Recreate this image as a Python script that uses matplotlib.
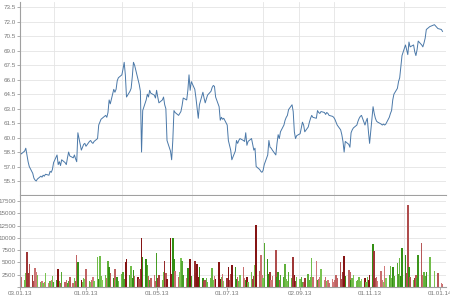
import pandas as pd
import numpy as np
import matplotlib
matplotlib.use("Agg")
import matplotlib.pyplot as plt
import matplotlib.dates as mdates

# trading calendar: weekdays 03.01.13 .. 03.01.14 without the christmas / new year closures
start_day = "2013-01-03"
end_day = "2014-01-03"
closed_days = ["2013-12-24", "2013-12-25", "2013-12-26", "2013-12-31", "2014-01-01"]

close_price = [
    58.5, 58.3, 58.6, 58.9, 58.2, 57.5, 57.0, 56.3, 55.8, 55.6,
    55.5, 55.7, 56.0, 55.9, 56.1, 56.0, 56.2, 56.1, 56.5, 56.4,
    56.7, 57.4, 58.2, 57.2, 57.5, 57.1, 57.7, 57.4, 57.2, 57.9,
    58.5, 58.1, 57.9, 58.2, 57.8, 57.5, 60.5, 58.7, 59.0, 59.3,
    59.4, 59.1, 59.6, 59.7, 59.5, 59.4, 59.6, 59.9, 61.3, 61.6,
    61.9, 62.0, 62.3, 62.1, 62.6, 63.9, 63.5, 65.0, 64.7, 65.0,
    65.9, 66.2, 66.5, 67.1, 67.8, 66.5, 64.2, 64.8, 65.1, 66.3,
    67.8, 67.5, 66.0, 65.5, 64.8, 58.5, 62.8, 63.9, 64.5, 64.2,
    64.9, 64.6, 64.4, 64.1, 64.9, 64.2, 63.6, 63.9, 64.2, 63.4,
    63.0, 59.7, 58.6, 57.7, 59.7, 62.8, 62.6, 62.3, 62.5, 62.7,
    63.3, 64.1, 63.9, 64.9, 66.5, 64.9, 65.8, 65.0, 64.1, 63.0,
    62.0, 63.4, 64.7, 64.1, 63.6, 64.0, 64.4, 64.8, 65.2, 65.4,
    65.3, 64.2, 63.2, 61.8, 62.1, 61.9, 62.0, 61.3, 59.7, 59.2,
    58.7, 57.7, 58.6, 59.7, 59.4, 59.7, 59.9, 59.7, 59.6, 60.5,
    59.2, 59.6, 59.9, 59.3, 58.7, 58.9, 57.0, 56.7, 56.5, 56.4,
    56.6, 57.2, 58.2, 59.7, 59.0, 58.9, 58.7, 58.2, 59.4, 60.3,
    59.9, 60.6, 61.3, 61.8, 62.1, 62.3, 62.9, 63.4, 62.7, 60.6,
    59.9, 60.2, 60.4, 61.0, 61.6, 61.3, 60.6, 61.1, 61.6, 62.0,
    62.3, 62.1, 62.0, 62.8, 62.6, 62.5, 62.7, 62.6, 62.4, 62.6,
    62.5, 62.3, 62.2, 62.1, 61.9, 61.6, 61.3, 60.8, 60.3, 59.6,
    58.5, 59.6, 59.3, 59.0, 60.5, 60.8, 61.0, 61.3, 61.7, 62.0,
    62.2, 62.3, 61.3, 61.7, 62.0, 60.6, 59.4, 63.2, 62.5, 62.0,
    61.7, 61.6, 61.4, 61.3, 61.4, 61.3, 61.4, 62.1, 62.5, 62.8,
    63.9, 64.5, 65.1, 65.8, 66.2, 67.4, 68.5, 69.6, 69.1, 68.6,
    69.9, 69.4, 69.6, 68.9, 68.5, 69.1, 70.0, 69.6, 69.4, 69.8,
    70.3, 71.2, 71.5, 71.7, 71.3, 71.2, 71.0,
]

volume = [
    2400, 2000, 1500, 2800, 7200, 2800, 4600, 2500, 1200, 3800,
    3000, 2500, 1000, 1300, 800, 1100, 2800, 900, 1200, 1500,
    2300, 1000, 1400, 3700, 1200, 900, 3100, 1100, 1500, 800,
    1300, 2000, 900, 1800, 1200, 6500, 5100, 1400, 1100, 1800,
    1600, 3700, 1300, 1000, 1500, 2000, 1200, 6100, 1700, 6300,
    2200, 1400, 2500, 1800, 5300, 4100, 2800, 1800, 3600, 1500,
    2000, 1200, 2600, 3000, 1700, 5000, 5700, 2400, 4300, 1900,
    3500, 2200, 2000, 1600, 3700, 10000, 6000, 5700, 4400, 2300,
    1500, 1900, 2400, 1300, 6900, 1800, 2500, 1400, 3000, 5300,
    2800, 1700, 9900, 2600, 9900, 5600, 3300, 2100, 3000, 5900,
    5300, 2400, 1900, 3800, 2600, 5700, 2200, 5300, 2900, 4700,
    2000, 4000, 1800, 1200, 1500, 1900, 1000, 1800, 3900, 1400,
    2300, 1700, 5100, 1600, 2000, 2700, 1300, 1900, 4100, 1500,
    2600, 4500, 4100, 1700, 2000, 1200, 2500, 4100, 1800, 1400,
    2000, 1100, 3000, 1600, 2200, 4500, 12600, 3200, 6500, 2400,
    1800, 8900, 5700, 2600, 3000, 1500, 2300, 7500, 2100, 3000,
    1400, 2500, 2000, 4700, 1600, 1300, 3000, 1900, 6100, 2500,
    1300, 2000, 1600, 2000, 1100, 1000, 1800, 2600, 1500, 2100,
    5900, 2000, 5300, 1400, 1700, 2000, 3700, 1500, 2000, 1200,
    1500, 900, 1700, 1000, 1400, 2500, 1900, 5100, 1600, 3000,
    6400, 2200, 3500, 3000, 1400, 1800, 2500, 1200, 1500, 2000,
    1300, 1600, 1800, 1100, 2000, 1400, 2500, 8700, 7400, 1900,
    2000, 1300, 3300, 1500, 1000, 4300, 1800, 2500, 4300, 1900,
    4000, 2200, 4900, 2600, 5900, 2300, 7900, 6500, 2800, 16700,
    4000, 2100, 1500, 1800, 2500, 1900, 6500, 8900, 2400, 3000,
    2200, 3000, 6200, 3300, 2800, 900, 700,
]

label_days = ["2013-01-03", "2013-03-01", "2013-05-01", "2013-07-01",
              "2013-09-02", "2013-11-01", "2014-01-01"]

days = pd.bdate_range(start_day, end_day)
days = days[~days.isin(pd.to_datetime(closed_days))]
df = pd.DataFrame({"close": close_price, "volume": volume}, index=days)

# bar colours: green up days, red down days, darker for bigger moves
chg = df["close"].diff().fillna(0)
strength = np.clip(chg.abs() / 1.0, 0, 1)
up_light, up_dark = np.array([0.55, 0.82, 0.38]), np.array([0.20, 0.56, 0.08])
dn_light, dn_dark = np.array([0.85, 0.52, 0.52]), np.array([0.52, 0.08, 0.08])
bar_colors = []
for c, s in zip(chg, strength):
    lo, hi = (up_light, up_dark) if c >= 0 else (dn_light, dn_dark)
    bar_colors.append(tuple(lo + (hi - lo) * s))

grid_c = "#e4e4e4"
spine_c = "#a0a0a0"
text_c = "#777777"
plt.rcParams["font.family"] = ["Liberation Sans", "DejaVu Sans"]

fig = plt.figure(figsize=(4.5, 3), dpi=100)
ax1 = fig.add_axes([20 / 450, 105 / 300, 426 / 450, 193 / 300])
ax2 = fig.add_axes([20 / 450, 13 / 300, 426 / 450, 91 / 300], sharex=ax1)

ax1.plot(df.index, df["close"], color="#4a78a8", linewidth=0.7)
ax2.bar(df.index, df["volume"], width=1.3, color=bar_colors, linewidth=0)

x_lo = pd.Timestamp("2013-01-03")
x_hi = pd.Timestamp("2014-01-06")
ax1.set_xlim(x_lo, x_hi)
ax1.set_ylim(54.05, 74.05)
ax1.set_yticks(np.arange(55.5, 73.6, 1.5))
ax1.yaxis.set_major_formatter(plt.FuncFormatter(lambda v, _: f"{v:.1f}"))
ax2.set_ylim(0, 18500)
ax2.set_yticks(np.arange(0, 17501, 2500))
ax2.yaxis.set_major_formatter(plt.FuncFormatter(lambda v, _: "" if v == 0 else f"{v:.0f}"))

ax2.set_xticks(pd.to_datetime(label_days))
ax2.xaxis.set_major_formatter(mdates.DateFormatter("%d.%m.%y"))
ax2.xaxis.set_minor_locator(mdates.MonthLocator())

for ax in (ax1, ax2):
    ax.set_facecolor("white")
    for side in ("top", "right"):
        ax.spines[side].set_visible(False)
    for side in ("left", "bottom"):
        ax.spines[side].set_color(spine_c)
        ax.spines[side].set_linewidth(0.8)
    ax.grid(True, axis="y", color=grid_c, linewidth=0.6)
    ax.grid(True, axis="x", which="minor", color=grid_c, linewidth=0.6)
    ax.set_axisbelow(True)
    ax.tick_params(axis="both", which="major", labelsize=4.5, colors=spine_c,
                   labelcolor=text_c, length=2, width=0.6, pad=0.8)
    ax.tick_params(axis="x", which="minor", length=0)

ax1.tick_params(axis="x", which="both", bottom=False, labelbottom=False)

fig.savefig("out.png", dpi=100)
